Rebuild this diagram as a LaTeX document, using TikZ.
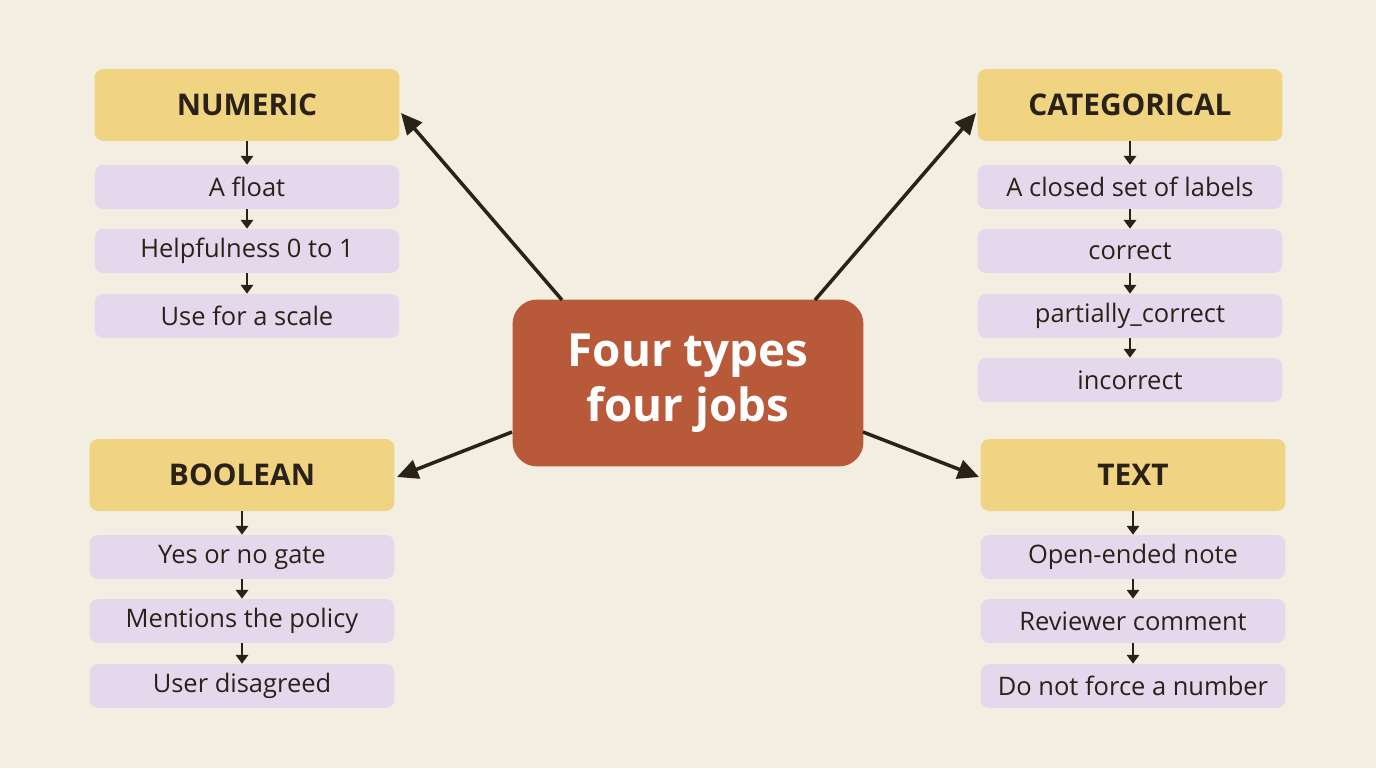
\documentclass[tikz,border=0pt]{standalone}
\usepackage{fontspec}
\setmainfont{Open Sans}
\usetikzlibrary{arrows.meta}
\definecolor{bg}{HTML}{F3EEE2}
\definecolor{hdr}{HTML}{F0D482}
\definecolor{itm}{HTML}{E5D8EC}
\definecolor{ctr}{HTML}{B85A3A}
\definecolor{ink}{HTML}{2A2118}
\begin{document}
\begin{tikzpicture}[x=0.02cm,y=-0.02cm,
 hdr/.style={fill=hdr,rounded corners=5pt,minimum width=6.1cm,minimum height=1.44cm,font=\fontsize{17}{20}\selectfont\bfseries,text=ink},
 itm/.style={fill=itm,rounded corners=5pt,minimum width=6.1cm,minimum height=0.88cm,font=\fontsize{14.5}{16}\selectfont,text=ink},
 sa/.style={draw=ink,line width=1.4pt,-{Triangle[length=5pt,width=7pt]}},
 ba/.style={draw=ink,line width=2pt,-{Triangle[length=12pt,width=11pt]}}]
\fill[bg] (0,0) rectangle (1376,768);
\useasboundingbox (0,0) rectangle (1376,768);
\node[fill=ctr,rounded corners=14pt,minimum width=7.02cm,minimum height=3.34cm,text=white,font=\fontsize{26}{31}\selectfont\bfseries,align=center] (c) at (688,383) {Four types\\four jobs};
% numeric
\node[hdr] (n) at (247,105) {NUMERIC};
\node[itm] (n1) at (247,187) {A float};
\node[itm] (n2) at (247,251) {Helpfulness 0 to 1};
\node[itm] (n3) at (247,316) {Use for a scale};
\draw[sa] (n)--(n1); \draw[sa] (n1)--(n2); \draw[sa] (n2)--(n3);
% categorical
\node[hdr] (k) at (1130,105) {CATEGORICAL};
\node[itm] (k1) at (1130,187) {A closed set of labels};
\node[itm] (k2) at (1130,251) {correct};
\node[itm] (k3) at (1130,316) {partially\_correct};
\node[itm] (k4) at (1130,380) {incorrect};
\draw[sa] (k)--(k1); \draw[sa] (k1)--(k2); \draw[sa] (k2)--(k3); \draw[sa] (k3)--(k4);
% boolean
\node[hdr] (b) at (242,475) {BOOLEAN};
\node[itm] (b1) at (242,557) {Yes or no gate};
\node[itm] (b2) at (242,621) {Mentions the policy};
\node[itm] (b3) at (242,686) {User disagreed};
\draw[sa] (b)--(b1); \draw[sa] (b1)--(b2); \draw[sa] (b2)--(b3);
% text
\node[hdr] (t) at (1133,475) {TEXT};
\node[itm] (t1) at (1133,557) {Open-ended note};
\node[itm] (t2) at (1133,621) {Reviewer comment};
\node[itm] (t3) at (1133,686) {Do not force a number};
\draw[sa] (t)--(t1); \draw[sa] (t1)--(t2); \draw[sa] (t2)--(t3);
% big arrows
\coordinate (a1) at (562,300); \coordinate (a2) at (815,300);
\coordinate (a3) at (512,432); \coordinate (a4) at (863,432);
\coordinate (e1) at (401,113); \coordinate (e2) at (976,113);
\coordinate (e3) at (397,477); \coordinate (e4) at (979,477);
\draw[ba] (a1) -- (e1);
\draw[ba] (a2) -- (e2);
\draw[ba] (a3) -- (e3);
\draw[ba] (a4) -- (e4);
\end{tikzpicture}
\end{document}
